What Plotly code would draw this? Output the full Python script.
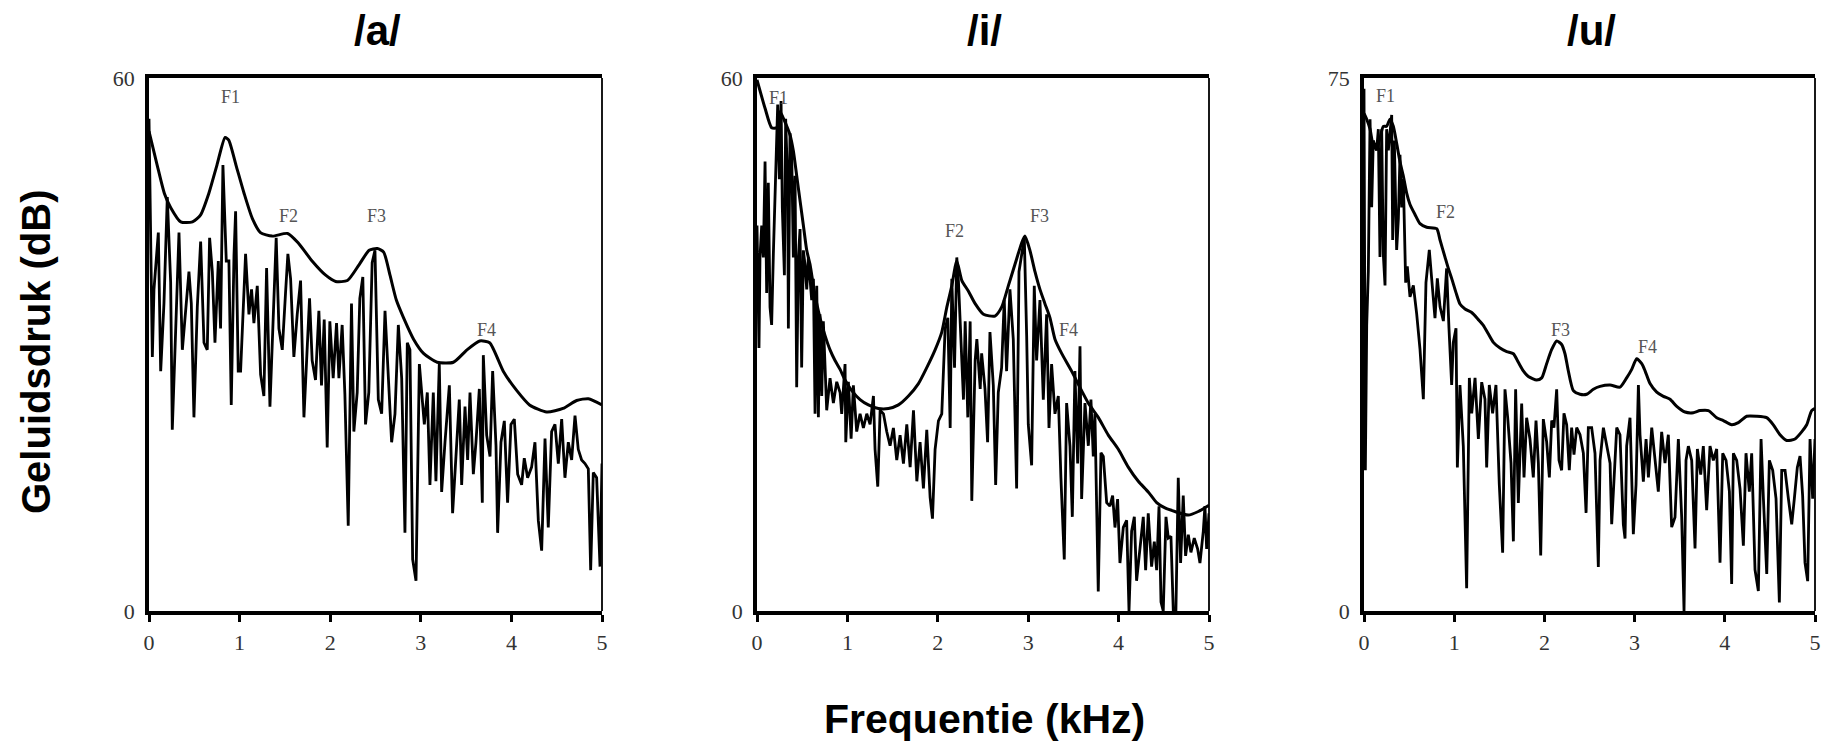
import plotly.graph_objects as go

# ---------------- data ----------------
panel_titles = ["/a/", "/i/", "/u/"]
y_max = [60, 60, 75]
x_ticks = [0, 1, 2, 3, 4, 5]

# /a/ spectrum
a_spec_khz = [0.000, 0.037, 0.055, 0.074, 0.103, 0.129, 0.165, 0.202, 0.239, 0.257,
              0.294, 0.331, 0.368, 0.404, 0.441, 0.467, 0.496, 0.533, 0.570, 0.607,
              0.643, 0.669, 0.699, 0.728, 0.765, 0.790, 0.816, 0.853, 0.882, 0.908,
              0.938, 0.956, 0.985, 1.011, 1.066, 1.103, 1.132, 1.158, 1.195, 1.232,
              1.268, 1.298, 1.335, 1.371, 1.404, 1.434, 1.471, 1.507, 1.533, 1.563,
              1.599, 1.636, 1.673, 1.710, 1.739, 1.772, 1.801, 1.838, 1.875, 1.904,
              1.934, 1.967, 1.996, 2.033, 2.070, 2.096, 2.132, 2.162, 2.199, 2.235,
              2.261, 2.298, 2.327, 2.360, 2.390, 2.426, 2.463, 2.494, 2.531, 2.568,
              2.605, 2.641, 2.678, 2.715, 2.752, 2.789, 2.825, 2.851, 2.880, 2.910,
              2.947, 2.984, 3.009, 3.039, 3.072, 3.101, 3.138, 3.167, 3.204, 3.230,
              3.267, 3.315, 3.351, 3.388, 3.425, 3.451, 3.488, 3.517, 3.543, 3.580,
              3.609, 3.646, 3.679, 3.690, 3.727, 3.764, 3.793, 3.830, 3.848, 3.885,
              3.922, 3.958, 3.995, 4.032, 4.069, 4.113, 4.142, 4.179, 4.223, 4.260,
              4.297, 4.334, 4.371, 4.407, 4.444, 4.481, 4.518, 4.555, 4.591, 4.628,
              4.665, 4.702, 4.738, 4.775, 4.812, 4.849, 4.875, 4.904, 4.941, 4.978,
              5.000]
a_spec_db = [55.4, 28.6, 36.2, 38.6, 42.6, 27.0, 34.6, 46.6, 37.0, 20.4,
             30.6, 42.6, 29.4, 33.8, 38.2, 34.6, 21.8, 34.2, 41.6, 30.2,
             29.4, 42.0, 38.2, 30.2, 39.4, 31.8, 50.2, 39.4, 39.4, 23.2,
             40.0, 45.0, 27.0, 27.0, 40.2, 33.4, 36.2, 32.4, 36.6, 26.6,
             24.2, 38.6, 23.0, 33.0, 42.0, 31.8, 29.4, 35.8, 40.2, 37.4,
             28.6, 33.4, 37.2, 21.8, 28.2, 35.2, 28.2, 26.0, 33.8, 25.4,
             32.8, 18.4, 32.6, 26.2, 32.4, 26.2, 32.2, 24.4, 9.6, 34.6,
             20.2, 24.6, 35.2, 37.6, 21.0, 24.6, 39.2, 40.6, 23.8, 22.2,
             33.8, 26.6, 19.0, 22.2, 32.2, 26.2, 8.8, 30.2, 29.4, 5.8,
             3.4, 27.8, 24.6, 21.0, 24.6, 14.2, 24.6, 14.6, 27.8, 13.4,
             19.0, 25.4, 11.0, 17.0, 23.8, 14.2, 23.0, 17.0, 24.6, 15.4,
             19.0, 25.0, 12.2, 28.8, 19.8, 17.4, 27.0, 18.6, 8.8, 19.0,
             21.4, 12.2, 21.0, 21.6, 15.4, 14.2, 17.2, 15.0, 16.2, 19.0,
             10.2, 6.8, 19.4, 9.4, 20.2, 21.0, 16.6, 21.6, 15.0, 19.0,
             17.0, 22.0, 18.2, 17.0, 16.6, 16.0, 4.6, 15.6, 15.0, 5.0,
             16.6]
# /a/ envelope
a_env_khz = [0.0, 0.09, 0.17, 0.24, 0.35, 0.48, 0.57, 0.66, 0.75, 0.84,
             0.88, 0.96, 1.05, 1.14, 1.23, 1.36, 1.53, 1.65, 1.80, 1.95,
             2.06, 2.19, 2.32, 2.43, 2.52, 2.59, 2.66, 2.73, 2.81, 2.92,
             3.03, 3.18, 3.36, 3.51, 3.65, 3.76, 3.91, 4.06, 4.20, 4.39,
             4.57, 4.72, 4.85, 5.0]
a_env_db = [54.0, 50.2, 47.0, 45.4, 43.8, 43.8, 44.6, 47.0, 50.2, 53.3,
            53.0, 50.2, 47.0, 44.2, 42.6, 42.2, 42.5, 41.4, 39.4, 37.8,
            37.1, 37.2, 39.0, 40.6, 40.8, 40.4, 37.8, 35.0, 33.0, 30.6,
            29.0, 28.0, 28.0, 29.4, 30.4, 30.2, 27.0, 24.8, 23.2, 22.4,
            22.8, 23.7, 23.9, 23.2]

# /i/ spectrum
i_spec_khz = [0.000, 0.022, 0.033, 0.052, 0.070, 0.089, 0.107, 0.125, 0.144, 0.162,
              0.181, 0.207, 0.229, 0.247, 0.266, 0.280, 0.303, 0.317, 0.339, 0.347,
              0.365, 0.384, 0.402, 0.421, 0.439, 0.458, 0.476, 0.494, 0.513, 0.531,
              0.550, 0.568, 0.605, 0.624, 0.642, 0.661, 0.679, 0.697, 0.716, 0.734,
              0.753, 0.771, 0.808, 0.845, 0.882, 0.919, 0.937, 0.974, 0.982, 1.011,
              1.041, 1.066, 1.103, 1.140, 1.177, 1.214, 1.251, 1.288, 1.306, 1.336,
              1.362, 1.399, 1.435, 1.472, 1.509, 1.546, 1.583, 1.620, 1.657, 1.694,
              1.731, 1.768, 1.804, 1.841, 1.878, 1.915, 1.941, 1.970, 2.007, 2.044,
              2.081, 2.111, 2.137, 2.155, 2.185, 2.210, 2.229, 2.258, 2.284, 2.303,
              2.332, 2.358, 2.376, 2.413, 2.432, 2.469, 2.485, 2.522, 2.551, 2.577,
              2.614, 2.640, 2.669, 2.706, 2.735, 2.761, 2.798, 2.835, 2.872, 2.898,
              2.927, 2.957, 2.983, 3.001, 3.038, 3.067, 3.093, 3.130, 3.167, 3.204,
              3.230, 3.259, 3.296, 3.333, 3.362, 3.399, 3.425, 3.462, 3.488, 3.517,
              3.547, 3.573, 3.591, 3.628, 3.665, 3.694, 3.720, 3.738, 3.775, 3.805,
              3.831, 3.868, 3.904, 3.934, 3.960, 3.989, 4.015, 4.052, 4.089, 4.115,
              4.144, 4.174, 4.199, 4.236, 4.273, 4.299, 4.328, 4.365, 4.395, 4.421,
              4.447, 4.469, 4.494, 4.524, 4.550, 4.579, 4.605, 4.634, 4.660, 4.686,
              4.715, 4.741, 4.771, 4.800, 4.837, 4.874, 4.900, 4.937, 4.955, 4.974,
              5.000]
i_spec_db = [43.4, 29.6, 39.8, 43.4, 39.8, 50.6, 35.8, 48.2, 34.2, 32.2,
             40.2, 48.6, 57.0, 48.6, 57.4, 45.4, 37.8, 55.4, 48.2, 31.8,
             53.8, 51.4, 39.8, 49.0, 25.2, 39.8, 43.0, 27.4, 40.6, 39.0,
             36.2, 39.8, 35.0, 37.4, 22.2, 36.6, 21.8, 33.4, 24.2, 32.6,
             27.0, 22.6, 26.2, 23.4, 25.8, 24.6, 22.2, 27.8, 19.0, 25.8,
             19.4, 25.4, 20.2, 22.2, 20.6, 22.2, 21.0, 24.2, 18.2, 14.0,
             22.6, 22.2, 20.2, 18.6, 20.6, 17.0, 19.8, 16.6, 21.0, 16.2,
             22.6, 14.6, 19.0, 13.8, 20.4, 12.8, 10.4, 18.2, 21.4, 22.2,
             31.8, 33.0, 20.6, 37.4, 27.4, 39.8, 37.0, 30.2, 23.8, 32.6,
             21.8, 32.6, 12.4, 28.2, 30.6, 25.0, 29.0, 25.0, 19.0, 31.4,
             25.4, 14.2, 24.6, 27.4, 35.0, 27.0, 36.2, 30.6, 13.8, 38.2,
             40.2, 42.0, 31.0, 21.0, 16.4, 36.6, 28.2, 35.0, 23.8, 33.4,
             20.6, 27.8, 22.2, 24.2, 15.0, 5.8, 23.4, 18.6, 10.6, 27.0,
             16.6, 29.8, 12.6, 23.4, 18.6, 23.8, 17.4, 22.2, 2.2, 17.8,
             17.4, 12.2, 11.8, 13.0, 9.4, 12.6, 5.4, 9.4, 10.2, 0.0,
             9.0, 10.6, 3.4, 7.4, 10.6, 4.6, 11.0, 5.0, 7.8, 4.6,
             11.8, 1.0, 0.0, 10.6, 8.2, 8.4, 0.0, 0.0, 15.0, 5.4,
             13.0, 6.2, 8.6, 6.6, 8.2, 7.0, 5.4, 9.0, 11.8, 7.0,
             11.0]
# /i/ envelope
i_env_khz = [0.0, 0.089, 0.162, 0.218, 0.255, 0.303, 0.365, 0.402, 0.439, 0.476,
             0.513, 0.550, 0.587, 0.624, 0.661, 0.697, 0.753, 0.808, 0.863, 0.919,
             0.974, 1.048, 1.140, 1.232, 1.343, 1.454, 1.565, 1.675, 1.786, 1.878,
             1.970, 2.044, 2.100, 2.155, 2.210, 2.266, 2.339, 2.413, 2.505, 2.632,
             2.706, 2.780, 2.853, 2.927, 2.964, 3.019, 3.075, 3.130, 3.185, 3.241,
             3.296, 3.370, 3.480, 3.591, 3.665, 3.775, 3.886, 3.997, 4.107, 4.218,
             4.328, 4.421, 4.513, 4.623, 4.771, 4.882, 5.0]
i_env_db = [59.8, 56.6, 54.4, 54.4, 56.2, 55.2, 53.6, 51.8, 49.0, 46.2,
            43.4, 40.6, 39.0, 36.6, 34.6, 33.0, 31.0, 29.4, 28.2, 27.2,
            26.0, 24.8, 23.8, 23.2, 22.8, 22.8, 23.2, 24.2, 25.6, 27.4,
            29.4, 31.4, 34.2, 36.6, 39.4, 37.2, 36.0, 34.6, 33.4, 33.2,
            34.2, 36.6, 39.0, 41.4, 42.2, 40.6, 38.2, 36.2, 34.6, 33.0,
            30.6, 29.0, 27.0, 24.8, 23.4, 21.8, 19.8, 18.2, 16.2, 14.6,
            13.4, 12.2, 11.6, 11.2, 10.8, 11.2, 11.9]

# /u/ spectrum
u_spec_khz = [0.000, 0.015, 0.030, 0.048, 0.067, 0.085, 0.103, 0.140, 0.159, 0.177,
              0.196, 0.214, 0.233, 0.251, 0.270, 0.307, 0.318, 0.336, 0.362, 0.381,
              0.399, 0.418, 0.436, 0.462, 0.480, 0.510, 0.547, 0.584, 0.621, 0.658,
              0.687, 0.724, 0.750, 0.787, 0.813, 0.843, 0.880, 0.916, 0.942, 0.972,
              0.990, 1.020, 1.035, 1.064, 1.101, 1.138, 1.168, 1.194, 1.231, 1.268,
              1.305, 1.341, 1.360, 1.389, 1.426, 1.463, 1.500, 1.537, 1.563, 1.593,
              1.630, 1.656, 1.681, 1.711, 1.748, 1.774, 1.803, 1.840, 1.877, 1.907,
              1.933, 1.959, 1.988, 2.025, 2.055, 2.081, 2.106, 2.136, 2.162, 2.191,
              2.217, 2.247, 2.276, 2.302, 2.328, 2.358, 2.395, 2.432, 2.462, 2.487,
              2.524, 2.561, 2.598, 2.617, 2.654, 2.691, 2.728, 2.746, 2.783, 2.802,
              2.838, 2.875, 2.894, 2.912, 2.949, 2.986, 3.016, 3.042, 3.060, 3.097,
              3.127, 3.153, 3.190, 3.226, 3.263, 3.300, 3.337, 3.374, 3.411, 3.448,
              3.485, 3.522, 3.548, 3.570, 3.596, 3.633, 3.670, 3.696, 3.733, 3.762,
              3.799, 3.836, 3.873, 3.910, 3.947, 3.977, 4.014, 4.051, 4.076, 4.095,
              4.132, 4.169, 4.206, 4.235, 4.272, 4.298, 4.335, 4.372, 4.402, 4.428,
              4.465, 4.494, 4.531, 4.568, 4.605, 4.631, 4.668, 4.705, 4.742, 4.771,
              4.804, 4.834, 4.863, 4.889, 4.919, 4.945, 4.974, 5.000]
u_spec_db = [73.5, 19.8, 40.2, 47.8, 69.2, 56.8, 66.2, 64.8, 67.8, 49.8,
             67.8, 50.2, 45.8, 67.8, 64.8, 69.8, 52.2, 66.2, 50.8, 55.2,
             64.2, 56.8, 60.8, 46.2, 48.5, 44.2, 45.8, 41.8, 36.8, 29.8,
             46.2, 50.8, 46.8, 41.2, 46.8, 42.8, 40.8, 48.2, 39.8, 31.8,
             37.8, 39.8, 20.2, 31.8, 23.2, 3.2, 32.8, 27.8, 32.8, 24.2,
             32.2, 29.8, 20.2, 31.8, 27.8, 31.8, 17.8, 8.2, 31.2, 27.2,
             20.8, 9.8, 31.2, 15.2, 29.2, 18.8, 27.2, 24.2, 18.8, 26.8,
             20.8, 7.8, 27.0, 23.8, 18.8, 26.8, 25.8, 31.2, 21.2, 19.8,
             27.8, 26.2, 19.8, 25.8, 22.0, 25.8, 24.8, 22.2, 13.8, 25.8,
             25.8, 22.2, 6.2, 21.2, 25.8, 23.2, 20.8, 12.2, 20.2, 25.8,
             24.8, 12.2, 10.2, 23.2, 27.2, 10.8, 17.8, 31.8, 24.8, 18.2,
             24.2, 18.8, 25.8, 20.8, 16.8, 25.2, 20.8, 24.8, 11.8, 13.2,
             24.2, 13.2, 0.0, 21.2, 23.2, 21.2, 8.8, 22.8, 19.2, 23.2,
             14.2, 23.2, 21.2, 22.8, 6.8, 22.2, 21.2, 16.8, 3.8, 22.2,
             21.2, 17.2, 9.2, 22.2, 16.8, 22.2, 5.8, 2.8, 24.2, 15.8,
             5.2, 21.2, 19.8, 15.8, 1.2, 19.8, 19.8, 15.8, 12.2, 15.8,
             20.2, 21.8, 16.2, 6.8, 4.2, 24.2, 15.8, 24.2]
# /u/ envelope
u_env_khz = [0.0, 0.030, 0.067, 0.103, 0.140, 0.177, 0.214, 0.251, 0.288, 0.325,
             0.362, 0.399, 0.436, 0.473, 0.510, 0.565, 0.621, 0.695, 0.806, 0.843,
             0.898, 0.935, 0.972, 1.020, 1.064, 1.120, 1.194, 1.268, 1.323, 1.378,
             1.434, 1.508, 1.582, 1.656, 1.711, 1.766, 1.822, 1.914, 1.970, 2.025,
             2.081, 2.136, 2.191, 2.228, 2.265, 2.321, 2.395, 2.469, 2.543, 2.617,
             2.728, 2.838, 2.912, 2.968, 3.023, 3.079, 3.116, 3.171, 3.245, 3.319,
             3.393, 3.467, 3.559, 3.651, 3.725, 3.818, 3.910, 3.984, 4.076, 4.150,
             4.243, 4.354, 4.464, 4.538, 4.612, 4.686, 4.778, 4.852, 4.908, 4.963, 5.0]
u_env_db = [70.0, 69.2, 67.8, 65.5, 65.0, 66.5, 68.2, 68.2, 69.2, 68.2,
            65.8, 63.2, 61.2, 58.8, 57.2, 55.8, 54.5, 54.0, 53.8, 52.2,
            49.8, 48.2, 46.8, 44.8, 43.2, 42.5, 42.0, 41.0, 40.2, 39.0,
            37.8, 37.0, 36.5, 36.2, 35.0, 33.8, 33.0, 32.5, 32.8, 34.8,
            36.8, 38.0, 37.5, 36.2, 33.8, 31.0, 30.5, 30.5, 31.2, 31.6,
            31.8, 31.5, 32.8, 34.0, 35.5, 34.8, 33.8, 32.0, 30.8, 30.2,
            29.8, 28.8, 28.0, 27.9, 28.2, 28.2, 27.2, 26.8, 26.2, 26.5,
            27.4, 27.4, 27.2, 26.2, 24.8, 24.0, 24.2, 25.2, 26.2, 28.2, 28.5]

# formant labels per panel
formant_names = ["F1", "F2", "F3", "F4"]
a_formant_khz = [0.90, 1.54, 2.51, 3.73]
a_formant_db = [57.9, 44.5, 44.5, 31.6]
i_formant_khz = [0.24, 2.19, 3.13, 3.45]
i_formant_db = [57.8, 42.8, 44.5, 31.6]
u_formant_khz = [0.24, 0.90, 2.18, 3.14]
u_formant_db = [72.4, 56.1, 39.5, 37.1]

# ---------------- figure ----------------
W, H = 1827, 742
x_dom = [(149 / W, 602 / W), (757 / W, 1209 / W), (1364 / W, 1815 / W)]
y_dom = ((742 - 611) / H, (742 - 78) / H)

spectra = [(a_spec_khz, a_spec_db), (i_spec_khz, i_spec_db), (u_spec_khz, u_spec_db)]
envelopes = [(a_env_khz, a_env_db), (i_env_khz, i_env_db), (u_env_khz, u_env_db)]
formants = [(a_formant_khz, a_formant_db), (i_formant_khz, i_formant_db),
            (u_formant_khz, u_formant_db)]

SANS = "Liberation Sans, Arial, sans-serif"
SERIF = "Liberation Serif, Times New Roman, serif"

fig = go.Figure()
layout = dict(
    width=W, height=H, margin=dict(l=0, r=0, t=0, b=0, autoexpand=False),
    paper_bgcolor="white", plot_bgcolor="white", showlegend=False,
)
annotations = []
shapes = []
tick_font = dict(family=SERIF, size=22, color="#333333")

for k in range(3):
    sfx = "" if k == 0 else str(k + 1)
    xa, ya = "x" + sfx, "y" + sfx
    fig.add_trace(go.Scatter(x=spectra[k][0], y=spectra[k][1], mode="lines",
                             line=dict(color="black", width=2.8),
                             xaxis=xa, yaxis=ya, cliponaxis=True))
    fig.add_trace(go.Scatter(x=envelopes[k][0], y=envelopes[k][1], mode="lines",
                             line=dict(color="black", width=3, shape="spline", smoothing=0.6),
                             xaxis=xa, yaxis=ya))
    layout["xaxis" + sfx] = dict(
        domain=list(x_dom[k]), anchor=ya, range=[0, 5], tickvals=x_ticks,
        ticks="outside", ticklen=7, tickwidth=2.5, tickcolor="black",
        showline=True, linewidth=3.5, linecolor="black", mirror=True,
        showgrid=False, zeroline=False, tickfont=tick_font, ticklabelstandoff=2,
        automargin=False,
    )
    layout["yaxis" + sfx] = dict(
        domain=list(y_dom), anchor=xa, range=[0, y_max[k]],
        tickvals=[0, y_max[k]], ticks="", showline=True, linewidth=3.5,
        linecolor="black", showgrid=False, zeroline=False, tickfont=tick_font,
        ticklabelstandoff=6, automargin=False,
    )
    shapes.append(dict(type="line", xref=xa + " domain", yref=ya + " domain",
                       x0=1, x1=1, y0=0, y1=1, line=dict(color="black", width=1.8)))
    annotations.append(dict(text="<b>" + panel_titles[k] + "</b>", xref="paper", yref="paper",
                            x=(x_dom[k][0] + x_dom[k][1]) / 2 + 2 / W, y=1 - 30 / H,
                            showarrow=False, xanchor="center", yanchor="middle",
                            font=dict(family=SANS, size=42, color="black")))
    for name, fx, fy in zip(formant_names, formants[k][0], formants[k][1]):
        annotations.append(dict(text=name, x=fx, y=fy, xref=xa, yref=ya, showarrow=False,
                                xanchor="center", yanchor="middle",
                                font=dict(family=SERIF, size=18, color="#555555")))

annotations.append(dict(text="<b>Geluidsdruk (dB)</b>", xref="paper", yref="paper",
                        x=36 / W, y=1 - 352 / H, textangle=-90, showarrow=False,
                        xanchor="center", yanchor="middle",
                        font=dict(family=SANS, size=40, color="black")))
annotations.append(dict(text="<b>Frequentie (kHz)</b>", xref="paper", yref="paper",
                        x=984 / W, y=1 - 719 / H, showarrow=False,
                        xanchor="center", yanchor="middle",
                        font=dict(family=SANS, size=41, color="black")))
layout["annotations"] = annotations
layout["shapes"] = shapes
fig.update_layout(**layout)
fig.write_html("out.html", config={"displayModeBar": False},
               post_script="document.body.style.margin='0';document.body.style.overflow='hidden';")
